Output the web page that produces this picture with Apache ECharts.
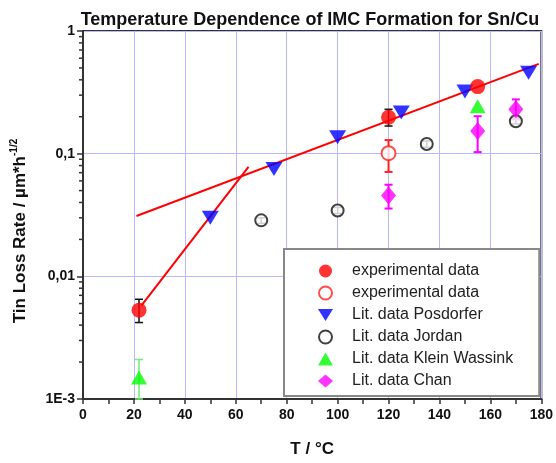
<!DOCTYPE html>
<html>
<head>
<meta charset="utf-8">
<script src="https://cdn.jsdelivr.net/npm/echarts@6/dist/echarts.min.js"></script>
<style>html,body{margin:0;padding:0;background:#fff}#c{width:556px;height:463px}</style>
</head>
<body>
<div id="c"></div>
<script>
// ---- data ----
var expFilledX = [22, 120, 155];
var expFilledY = [0.0053, 0.198, 0.352];
var expFilledErr = [[22, 0.0042, 0.0065], [120, 0.168, 0.23]];

var expOpenX = [120];
var expOpenY = [0.101];
var expOpenErr = [[120, 0.071, 0.129]];

var posdorferX = [50, 75, 100, 125, 150, 175];
var posdorferY = [0.030, 0.075, 0.136, 0.217, 0.321, 0.457];

var jordanX = [70, 100, 135, 170];
var jordanY = [0.0286, 0.0344, 0.12, 0.184];
var jordanErr = [[70, 0.027, 0.030], [100, 0.0325, 0.0365], [135, 0.113, 0.127], [170, 0.175, 0.195]];

var kleinX = [22, 155];
var kleinY = [0.0015, 0.243];
var kleinErr = [[22, 0.001, 0.0021]];

var chanX = [120, 155, 170];
var chanY = [0.0455, 0.153, 0.23];
var chanErr = [[120, 0.0357, 0.0558], [155, 0.103, 0.202], [170, 0.19, 0.277]];

var fit1X = [21, 179];
var fit1Y = [0.031, 0.54];
var fit2X = [23, 65];
var fit2Y = [0.0058, 0.078];

var yTickValues = [1, 0.1, 0.01, 0.001];
var yTickLabels = ['1', '0,1', '0,01', '1E-3'];
var yMinorTicks = [0.002,0.003,0.004,0.005,0.006,0.007,0.008,0.009,
                   0.02,0.03,0.04,0.05,0.06,0.07,0.08,0.09,
                   0.2,0.3,0.4,0.5,0.6,0.7,0.8,0.9];

function zip(xs, ys) { return xs.map(function (x, i) { return [x, ys[i]]; }); }

var FONT = 'Liberation Sans, Arial, sans-serif';
var DOWN_TRI = 'path://M0,0L16,0L8,13Z';

function errSeries(data, color, width) {
  return {
    type: 'custom', data: data, silent: true, z: 3,
    encode: { x: 0, y: [1, 2] },
    renderItem: function (params, api) {
      var x = api.value(0), lo = api.value(1), hi = api.value(2);
      var p1 = api.coord([x, lo]), p2 = api.coord([x, hi]);
      var w = 4;
      var st = { stroke: color, lineWidth: width };
      return { type: 'group', children: [
        { type: 'line', shape: { x1: p1[0], y1: p1[1], x2: p2[0], y2: p2[1] }, style: st },
        { type: 'line', shape: { x1: p1[0] - w, y1: p1[1], x2: p1[0] + w, y2: p1[1] }, style: st },
        { type: 'line', shape: { x1: p2[0] - w, y1: p2[1], x2: p2[0] + w, y2: p2[1] }, style: st }
      ]};
    }
  };
}

var chart = echarts.init(document.getElementById('c'));
chart.setOption({
  animation: false,
  textStyle: { fontFamily: FONT },
  title: {
    text: 'Temperature Dependence of IMC Formation for Sn/Cu',
    left: 305, top: 6, textAlign: 'center',
    textStyle: { fontSize: 18, fontWeight: 'bold', color: '#111', fontFamily: FONT }
  },
  grid: { left: 83, right: 13, top: 31, bottom: 61, show: true, borderColor: '#333', borderWidth: 2, backgroundColor: 'transparent' },
  xAxis: {
    type: 'value', min: 0, max: 180, interval: 20,
    name: 'T / °C', nameLocation: 'middle', nameGap: 42,
    nameTextStyle: { fontSize: 17, fontWeight: 'bold', color: '#111' },
    axisLine: { lineStyle: { color: '#333', width: 2 } },
    axisTick: { length: 5, lineStyle: { color: '#333', width: 1.5 } },
    minorTick: { show: true, splitNumber: 2, length: 5, lineStyle: { color: '#333', width: 1.5 } },
    axisLabel: { fontSize: 14, fontWeight: 'bold', color: '#111', margin: 9 },
    splitLine: { show: true, lineStyle: { color: '#b8b8ff', width: 1 } }
  },
  yAxis: {
    type: 'log', logBase: 10, min: 0.001, max: 1,
    axisLine: { lineStyle: { color: '#333', width: 2 } },
    axisTick: { length: 6, lineStyle: { color: '#333', width: 1.5 } },
    axisLabel: {
      fontSize: 14, fontWeight: 'bold', color: '#111', margin: 8,
      formatter: function (v) {
        for (var i = 0; i < yTickValues.length; i++) {
          if (Math.abs(Math.log10(v) - Math.log10(yTickValues[i])) < 1e-6) return yTickLabels[i];
        }
        return '';
      }
    },
    splitLine: { show: true, lineStyle: { color: '#b8b8ff', width: 1 } }
  },
  graphic: [{
    type: 'text', x: 20, y: 231, rotation: Math.PI / 2,
    style: {
      text: '{a|Tin Loss Rate / µm*h}{b|-1/2}',
      align: 'center', verticalAlign: 'middle',
      rich: {
        a: { fontSize: 17, fontWeight: 'bold', fill: '#111', fontFamily: FONT, lineHeight: 22 },
        b: { fontSize: 10, fontWeight: 'bold', fill: '#111', fontFamily: FONT, verticalAlign: 'top', lineHeight: 22 }
      }
    }
  }],
  legend: {
    orient: 'vertical', left: 284, top: 249,
    padding: [14, 26, 7, 34],
    itemWidth: 15, itemHeight: 13, itemGap: 6,
    backgroundColor: '#fff', borderColor: '#888', borderWidth: 2,
    textStyle: { fontSize: 16, color: '#222', fontFamily: FONT, padding: [0, 0, 0, 14] },
    data: ['experimental data', 'experimental data ', 'Lit. data Posdorfer', 'Lit. data Jordan', 'Lit. data Klein Wassink', 'Lit. data Chan']
  },
  series: [
    { type: 'custom', silent: true, data: yMinorTicks, z: 1,
      renderItem: function (params, api) {
        var p = api.coord([0, api.value(0)]);
        return { type: 'line', shape: { x1: p[0] - 4, y1: p[1], x2: p[0], y2: p[1] }, style: { stroke: '#333', lineWidth: 1.5 } };
      },
      encode: { y: 0 }
    },
    { type: 'line', data: zip(fit1X, fit1Y), showSymbol: false, silent: true, lineStyle: { color: '#ff0000', width: 2 }, z: 2 },
    { type: 'line', data: zip(fit2X, fit2Y), showSymbol: false, silent: true, lineStyle: { color: '#ff0000', width: 2 }, z: 2 },
    errSeries(expFilledErr, '#111', 1.5),
    errSeries(expOpenErr, '#ff2020', 2),
    errSeries(jordanErr, '#111', 1.5),
    errSeries(kleinErr, '#70ee70', 1.5),
    errSeries(chanErr, '#ff00ff', 2),
    { name: 'Lit. data Posdorfer', type: 'scatter', data: zip(posdorferX, posdorferY), symbol: DOWN_TRI, symbolSize: [17, 14], itemStyle: { color: '#0000ff' }, z: 4 },
    { name: 'Lit. data Jordan', type: 'scatter', data: zip(jordanX, jordanY), symbol: 'emptyCircle', symbolSize: 12, itemStyle: { color: '#111', borderWidth: 2 }, z: 4 },
    { name: 'Lit. data Klein Wassink', type: 'scatter', data: zip(kleinX, kleinY), symbol: 'triangle', symbolSize: [16, 14], itemStyle: { color: '#00ff00' }, z: 4 },
    { name: 'Lit. data Chan', type: 'scatter', data: zip(chanX, chanY), symbol: 'diamond', symbolSize: [15, 18], itemStyle: { color: '#ff00ff' }, z: 4 },
    { name: 'experimental data ', type: 'scatter', data: zip(expOpenX, expOpenY), symbol: 'emptyCircle', symbolSize: 14, itemStyle: { color: '#ff2020', borderWidth: 2 }, z: 5 },
    { name: 'experimental data', type: 'scatter', data: zip(expFilledX, expFilledY), symbol: 'circle', symbolSize: 15, itemStyle: { color: '#ff0000' }, z: 6 }
  ]
});
</script>
</body>
</html>
